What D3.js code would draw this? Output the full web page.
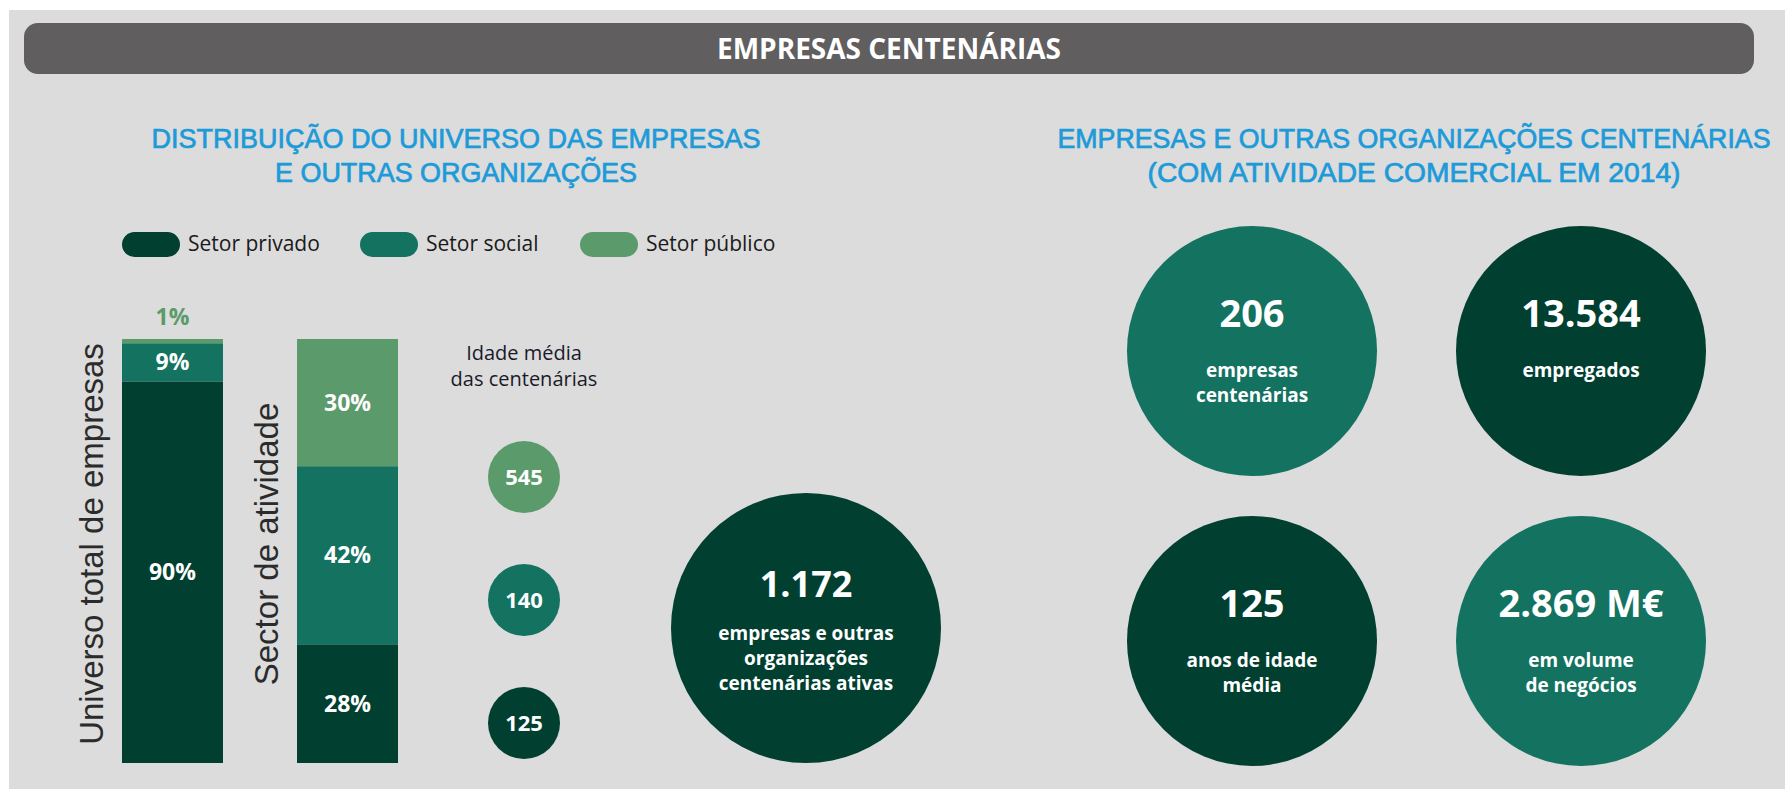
<!DOCTYPE html>
<html><head><meta charset="utf-8">
<script src="https://cdn.jsdelivr.net/npm/d3@7"></script>
<style>
html,body{margin:0;padding:0;background:#fff;}
svg{display:block;}
</style></head>
<body>
<svg id="chart" width="1785" height="789"></svg>
<script>
// ---- data ----
const pageTitle = "EMPRESAS CENTENÁRIAS";
const leftTitle = ["DISTRIBUIÇÃO DO UNIVERSO DAS EMPRESAS", "E OUTRAS ORGANIZAÇÕES"];
const rightTitle = ["EMPRESAS E OUTRAS ORGANIZAÇÕES CENTENÁRIAS", "(COM ATIVIDADE COMERCIAL EM 2014)"];
const sectors = ["Setor privado", "Setor social", "Setor público"];
const sectorColors = ["#013f30", "#137260", "#5b9b6b"];
const barNames = ["Universo total de empresas", "Sector de atividade"];
const universoShares = [90, 9, 1];      // privado, social, público
const atividadeShares = [28, 42, 30];   // privado, social, público
const idadeTitle = ["Idade média", "das centenárias"];
const idadeMedia = [125, 140, 545];     // privado, social, público
const totalValue = "1.172";
const totalLabel = ["empresas e outras", "organizações", "centenárias ativas"];
const kpiValues = ["206", "13.584", "125", "2.869 M€"];
const kpiLabels = [["empresas", "centenárias"], ["empregados"], ["anos de idade", "média"], ["em volume", "de negócios"]];
const kpiColorIdx = [1, 0, 0, 1];

// ---- drawing ----
const svg = d3.select("#chart");
const W = 1785, H = 789;
const FONT = "'Open Sans', sans-serif";
const TFONT = "'Liberation Sans', Arial, sans-serif";

svg.append("rect").attr("x", 9).attr("y", 10).attr("width", W - 9).attr("height", H - 10).attr("fill", "#dcdcdc");

// header bar
svg.append("rect").attr("x", 24).attr("y", 23).attr("width", 1730).attr("height", 51)
  .attr("rx", 14).attr("fill", "#605e5f");
svg.append("text").attr("x", 889).attr("y", 59).attr("text-anchor", "middle")
  .attr("font-family", FONT).attr("font-weight", 700).attr("font-size", 28)
  .attr("fill", "#fff").text(pageTitle);

// multi-line text helper (single text element with tspans)
function multiline(parent, lines, xPos, yPos, lineH) {
  const t = parent.append("text").attr("x", xPos).attr("y", yPos).attr("text-anchor", "middle");
  t.selectAll("tspan").data(lines).join("tspan")
    .attr("x", xPos).attr("y", (d, i) => yPos + i * lineH).text(d => d);
  return t;
}

// section titles (condensed look: glyphs fitted to the reference line widths)
function title(lines, cx, widths) {
  svg.append("g").selectAll("text").data(lines).join("text")
    .attr("x", cx).attr("y", (d, i) => 148 + i * 34).attr("text-anchor", "middle")
    .attr("font-family", TFONT).attr("font-size", 27)
    .attr("fill", "#1d9ad8").attr("stroke", "#1d9ad8").attr("stroke-width", 0.7)
    .attr("textLength", (d, i) => widths[i]).attr("lengthAdjust", "spacingAndGlyphs")
    .text(d => d);
}
title(leftTitle, 456, [609, 362]);
title(rightTitle, 1414, [713, 533]);

// legend
const legendX = d3.scaleOrdinal().domain(sectors).range([122, 360, 580]);
const lg = svg.append("g").selectAll("g").data(sectors).join("g")
  .attr("transform", d => `translate(${legendX(d)},232)`);
lg.append("rect").attr("width", 58).attr("height", 25).attr("rx", 12.5)
  .attr("fill", (d, i) => sectorColors[i]);
lg.append("text").attr("x", 66).attr("y", 19).attr("font-family", FONT).attr("font-size", 21)
  .attr("fill", "#1a1a1a").text(d => d);

// stacked bars
const x = d3.scaleBand().domain(barNames).range([122, 398]).paddingInner(0.423).paddingOuter(0);
const y = d3.scaleLinear().domain([0, 100]).range([763, 339]);
const stackData = [universoShares, atividadeShares];
stackData.forEach((shares, bi) => {
  let acc = 0;
  const segs = shares.map((v, si) => { const s = { v, si, y0: acc, y1: acc + v }; acc += v; return s; });
  const g = svg.append("g");
  g.selectAll("rect").data(segs).join("rect")
    .attr("x", x(barNames[bi])).attr("width", x.bandwidth())
    .attr("y", d => y(d.y1)).attr("height", d => y(d.y0) - y(d.y1))
    .attr("fill", d => sectorColors[d.si]);
  g.selectAll("text").data(segs).join("text")
    .attr("x", x(barNames[bi]) + x.bandwidth() / 2)
    .attr("y", d => d.v < 3 ? y(d.y1) - 14 : y((d.y0 + d.y1) / 2) + 8)
    .attr("text-anchor", "middle").attr("font-family", FONT).attr("font-weight", 700)
    .attr("font-size", 23)
    .attr("fill", d => d.v < 3 ? sectorColors[2] : "#fff")
    .text(d => d.v + "%");
  // vertical bar name
  svg.append("text")
    .attr("transform", `translate(${x(barNames[bi]) - 19},${544}) rotate(-90)`)
    .attr("text-anchor", "middle").attr("font-family", TFONT)
    .attr("font-size", 33).attr("fill", "#2b2b2b").text(barNames[bi]);
});

// idade média
multiline(svg, idadeTitle, 524, 360, 26)
  .attr("font-family", FONT).attr("font-size", 20).attr("fill", "#1a1a2a");
const yIdade = d3.scalePoint().domain(sectors).range([723, 477]);
const ig = svg.append("g").selectAll("g").data(sectors).join("g")
  .attr("transform", d => `translate(524,${yIdade(d)})`);
ig.append("circle").attr("r", 36).attr("fill", (d, i) => sectorColors[i]);
ig.append("text").attr("y", 8).attr("text-anchor", "middle").attr("font-family", FONT)
  .attr("font-weight", 700).attr("font-size", 22).attr("fill", "#fff")
  .text((d, i) => idadeMedia[i]);

// big total circle
const tg = svg.append("g").attr("transform", "translate(806,628)");
tg.append("circle").attr("r", 135).attr("fill", sectorColors[0]);
tg.append("text").attr("y", -31).attr("text-anchor", "middle").attr("font-family", FONT)
  .attr("font-weight", 700).attr("font-size", 36).attr("fill", "#fff").text(totalValue);
multiline(tg, totalLabel, 0, 12, 25)
  .attr("font-family", FONT).attr("font-weight", 700).attr("font-size", 19).attr("fill", "#fff");

// KPI circles
const kx = d3.scalePoint().domain([0, 1]).range([1252, 1581]);
const ky = d3.scalePoint().domain([0, 1]).range([351, 641]);
const kg = svg.append("g").selectAll("g").data(kpiValues).join("g")
  .attr("transform", (d, i) => `translate(${kx(i % 2)},${ky(Math.floor(i / 2))})`);
kg.append("circle").attr("r", 125).attr("fill", (d, i) => sectorColors[kpiColorIdx[i]]);
kg.append("text").attr("y", -24).attr("text-anchor", "middle").attr("font-family", FONT)
  .attr("font-weight", 700).attr("font-size", 38).attr("fill", "#fff").text(d => d);
kg.each(function (d, i) {
  multiline(d3.select(this), kpiLabels[i], 0, 26, 25)
    .attr("font-family", FONT).attr("font-weight", 700).attr("font-size", 19).attr("fill", "#fff");
});
</script>
</body></html>
